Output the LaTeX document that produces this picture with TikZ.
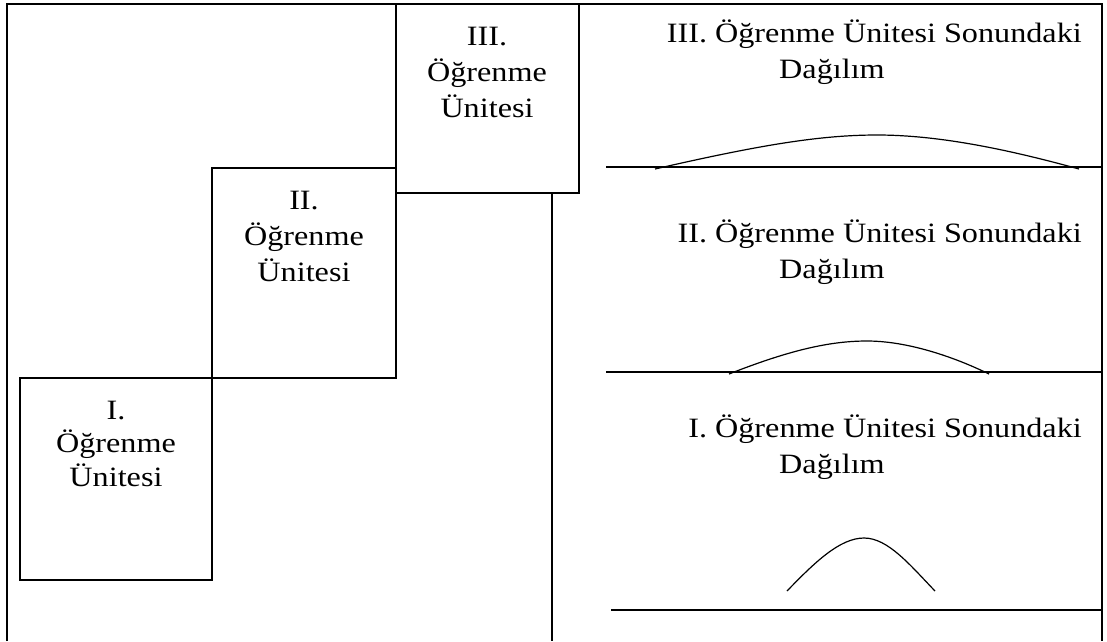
\documentclass[tikz,border=0pt]{standalone}
\usepackage{fontspec}
\setmainfont{Liberation Serif}[FakeStretch=1.15]
\tikzset{
  frame/.style={line width=1.4pt},
  unitbox/.style={line width=1.1pt},
  curve/.style={line width=1.2pt},
  txt/.style={inner sep=0pt, font=\fontsize{28}{36}\selectfont},
  boxtxt/.style={txt, align=center, anchor=base},
}
\begin{document}
\begin{tikzpicture}[x=1pt,y=-1pt]
\useasboundingbox (0,0) rectangle (1107,641);
% outer frame
\draw[frame] (7,641) -- (7,4) -- (1102,4) -- (1102,641);
% unit boxes
\draw[unitbox] (396,4) rectangle (579,193);
\draw[unitbox] (212,168) rectangle (396,378);
\draw[unitbox] (20,378) rectangle (212,580);
\draw[unitbox] (552,193) -- (552,641);
% box labels (anchor = baseline of last line)
\node[boxtxt] (u3) at (487,117) {III.\\Öğrenme\\Ünitesi};
\node[boxtxt] (u2) at (304,281) {II.\\Öğrenme\\Ünitesi};
\node[boxtxt, font=\fontsize{28}{33.5}\selectfont] (u1) at (116,486) {I.\\Öğrenme\\Ünitesi};
% distribution titles
\node[txt, anchor=base east] (d3a) at (1082,42) {III. Öğrenme Ünitesi Sonundaki};
\node[txt, anchor=base west] (d3b) at (779,78) {Dağılım};
\node[txt, anchor=base east] (d2a) at (1082,242) {II. Öğrenme Ünitesi Sonundaki};
\node[txt, anchor=base west] (d2b) at (779,278) {Dağılım};
\node[txt, anchor=base east] (d1a) at (1082,437) {I. Öğrenme Ünitesi Sonundaki};
\node[txt, anchor=base west] (d1b) at (779,473) {Dağılım};
% baselines
\draw[unitbox] (606,167) -- (1102,167);
\draw[unitbox] (606,372) -- (1102,372);
\draw[unitbox] (611,610) -- (1102,610);
% curves
\draw[curve] (655,169) .. controls (760,145) and (820,135) .. (877,135)
  .. controls (940,135) and (1010,150) .. (1079,169);
\draw[curve] (729,374) .. controls (790,350) and (830,341) .. (867,341)
  .. controls (905,341) and (950,355) .. (989,374);
\draw[curve] (787,591) .. controls (815,562) and (840,538) .. (864,538)
  .. controls (888,538) and (910,565) .. (935,591);
\end{tikzpicture}
\end{document}
